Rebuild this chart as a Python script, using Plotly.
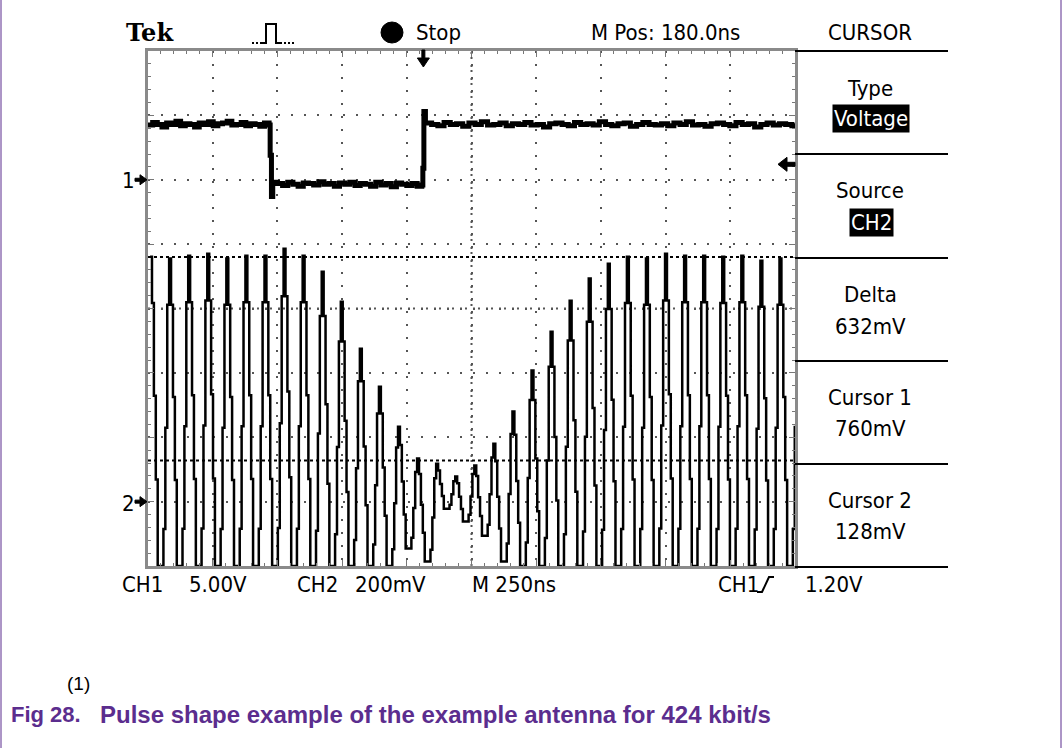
import plotly.graph_objects as go

# ---------------- data ----------------
TIME_RANGE_NS = [0, 2500]          # 10 div x 250 ns
CH1_RANGE_V = [-30, 10]            # 8 div x 5.00 V, ground marker "1"
CH2_RANGE_MV = [-200, 1400]        # 8 div x 200 mV, ground marker "2"

CH1_T_NS = [0, 18, 36, 54, 72, 90, 108, 126, 144, 162, 180, 198, 216, 234, 252, 270, 288, 306,
            324, 342, 360, 378, 396, 414, 432, 450, 468,
            472, 477, 482,
            500, 520, 540, 560, 580, 600, 620, 640, 660, 680, 700, 720, 740, 760, 780, 800,
            820, 840, 860, 880, 900, 920, 940, 960, 980, 1000, 1020, 1040, 1058,
            1062, 1066, 1072,
            1096, 1120, 1144, 1168, 1192, 1216, 1240, 1264, 1288, 1312, 1336, 1360, 1384, 1408,
            1432, 1456, 1480, 1504, 1528, 1552, 1576, 1600, 1624, 1648, 1672, 1696, 1720, 1744,
            1768, 1792, 1816, 1840, 1864, 1888, 1912, 1936, 1960, 1984, 2008, 2032, 2056, 2080,
            2104, 2128, 2152, 2176, 2200, 2224, 2248, 2272, 2296, 2320, 2344, 2368, 2392, 2416,
            2440, 2464, 2488, 2500]
CH1_V = [4.25, 4.45, 4.3, 4.1, 4.4, 4.3, 4.55, 4.2, 4.35, 4.3, 4.1, 4.4, 4.3, 4.5, 4.2, 4.35, 4.4, 4.55,
         4.25, 4.3, 4.45, 4.2, 4.35, 4.3, 4.15, 4.4, 4.25,
         1.9, -1.3, -0.2,
         -0.3, -0.45, -0.2, -0.35, -0.5, -0.25, -0.3, -0.4, -0.15, -0.35, -0.3, -0.5, -0.25, -0.35, -0.2,
         -0.45, -0.3, -0.35, -0.5, -0.2, -0.4, -0.3, -0.55, -0.25, -0.35, -0.45, -0.3, -0.5, -0.4,
         0.9, 5.3, 4.4,
         4.3, 4.2, 4.45, 4.3, 4.35, 4.15, 4.4, 4.3, 4.5, 4.25,
         4.3, 4.4, 4.2, 4.35, 4.3, 4.45, 4.25, 4.3, 4.1, 4.35,
         4.4, 4.3, 4.2, 4.45, 4.3, 4.35, 4.25, 4.5, 4.3, 4.2,
         4.35, 4.4, 4.15, 4.3, 4.45, 4.3, 4.25, 4.35, 4.2, 4.4,
         4.3, 4.5, 4.25, 4.3, 4.15, 4.35, 4.4, 4.3, 4.2, 4.45,
         4.3, 4.35, 4.1, 4.3, 4.4, 4.25, 4.35, 4.3, 4.2, 4.3]

# CH2: 13.56 MHz carrier, one peak / trough per cycle (clipped at screen bottom = -200 mV)
CARRIER_FIRST_PEAK_NS = 8
CARRIER_PERIOD_NS = 73.7
CH2_PEAKS_MV = [761, 755, 764, 770, 755, 764, 764, 786, 764, 714, 621, 475, 357, 233, 134,
                118, 78, 112, 180, 280, 407, 528, 624, 693, 739, 761, 755, 770, 764, 764,
                761, 764, 748, 755, 760]
CH2_TROUGHS_MV = [-200, -200, -200, -200, -200, -200, -200, -200, -200, -200, -200, -200, -200,
                  -146, -186, -22, -62, -106, -186, -200, -200, -200, -200, -200, -200, -200,
                  -200, -200, -200, -200, -200, -200, -200, -200]
# stepped shape of one sampled cycle (fraction between trough and peak)
CYCLE_SHAPE = [1.0, 0.85, 0.55, 0.28, 0.0, 0.0, 0.0, 0.12, 0.45, 0.85]
RISE_START = 7

CURSORS_MV = [760, 128]
TRIGGER_T_NS = 1064
TRIGGER_LEVEL_V = 1.2

PANEL_ITEMS = [("Type", "Voltage", True), ("Source", "CH2", True), ("Delta", "632mV", False),
               ("Cursor 1", "760mV", False), ("Cursor 2", "128mV", False)]
BOTTOM_LABELS = [("CH1", 120), ("5.00V", 187), ("CH2", 295), ("200mV", 353),
                 ("M 250ns", 470), ("CH1", 716), ("1.20V", 803)]
CAPTION_NUM = "Fig 28."
CAPTION = "Pulse shape example of the example antenna for 424 kbit/s"

# ---------------- layout helpers ----------------
L, T, W, H = 148, 51, 647, 515
FIG_W, FIG_H = 1063, 748
SCOPE_FONT = "DejaVu Sans Condensed, DejaVu Sans, sans-serif"
PURPLE = "#5b2d8e"


def PX(x):
    return (x - L) / W


def PY(y):
    return (T + H - y) / H


# ---------------- build CH2 trace ----------------
ch2_t, ch2_v = [], []
for k in range(len(CH2_TROUGHS_MV)):
    for j, f in enumerate(CYCLE_SHAPE):
        t = CARRIER_FIRST_PEAK_NS + (k + j / len(CYCLE_SHAPE)) * CARRIER_PERIOD_NS
        top = CH2_PEAKS_MV[k] if j < RISE_START else CH2_PEAKS_MV[k + 1]
        low = CH2_TROUGHS_MV[k]
        ch2_t.append(t)
        ch2_v.append(low + f * (top - low))

fig = go.Figure()
fig.add_trace(go.Scatter(x=CH1_T_NS, y=CH1_V, mode="lines", line=dict(color="black", width=5, shape="hv"),
                         yaxis="y", showlegend=False, hoverinfo="skip"))
fig.add_trace(go.Scatter(x=ch2_t, y=ch2_v, mode="lines", line=dict(color="black", width=2.5, shape="hv"),
                         yaxis="y2", showlegend=False, hoverinfo="skip"))

axis_common = dict(showticklabels=False, zeroline=False, showgrid=True, gridcolor="#555",
                   gridwidth=2, griddash="2px,11px", showline=True, linecolor="#8a8a8a",
                   linewidth=3, mirror="ticks", ticks="inside", ticklen=6, tickcolor="#777",
                   tickwidth=1)
fig.update_layout(
    width=FIG_W, height=FIG_H, autosize=False,
    margin=dict(l=L, r=FIG_W - L - W, t=T, b=FIG_H - T - H),
    paper_bgcolor="white", plot_bgcolor="white",
    xaxis=dict(range=TIME_RANGE_NS, dtick=250, tick0=0,
               minor=dict(dtick=50, ticks="inside", ticklen=3, tickcolor="#777", showgrid=False),
               **axis_common),
    yaxis=dict(range=CH1_RANGE_V, dtick=5, tick0=0,
               minor=dict(dtick=1, ticks="inside", ticklen=3, tickcolor="#777", showgrid=False),
               **axis_common),
    yaxis2=dict(range=CH2_RANGE_MV, overlaying="y", visible=False),
)

shapes = []
# centre cross (denser marks)
mid_t = (TIME_RANGE_NS[0] + TIME_RANGE_NS[1]) / 2
mid_v = (CH1_RANGE_V[0] + CH1_RANGE_V[1]) / 2
shapes.append(dict(type="line", xref="x", yref="paper", x0=mid_t, x1=mid_t, y0=0, y1=1,
                   line=dict(color="#555", width=2, dash="2px,3px,2px,6px"), layer="below"))
shapes.append(dict(type="line", xref="paper", yref="y", x0=0, x1=1, y0=mid_v, y1=mid_v,
                   line=dict(color="#555", width=2, dash="2px,3px,2px,6px"), layer="below"))
# cursor lines on CH2
for c in CURSORS_MV:
    shapes.append(dict(type="line", xref="paper", yref="y2", x0=0, x1=1, y0=c, y1=c,
                       line=dict(color="black", width=2, dash="3px,3px")))
# right panel separators
for yy in [51, 154, 258, 361, 464, 567]:
    shapes.append(dict(type="line", xref="paper", yref="paper", x0=PX(795), x1=PX(948),
                       y0=PY(yy), y1=PY(yy), line=dict(color="black", width=2)))
# purple page borders
for xx in [1, 1061]:
    shapes.append(dict(type="line", xref="paper", yref="paper", x0=PX(xx), x1=PX(xx),
                       y0=PY(FIG_H), y1=PY(0), line=dict(color=PURPLE, width=1)))
# trigger position arrow (top)
dt = 6 * (TIME_RANGE_NS[1] - TIME_RANGE_NS[0]) / W
shapes.append(dict(type="path", xref="x", yref="paper",
                   path=f"M {TRIGGER_T_NS - 1.5*dt/6},{PY(50)} L {TRIGGER_T_NS + 1.5*dt/6},{PY(50)} "
                        f"L {TRIGGER_T_NS + 1.5*dt/6},{PY(58)} L {TRIGGER_T_NS + dt},{PY(58)} "
                        f"L {TRIGGER_T_NS},{PY(67)} L {TRIGGER_T_NS - dt},{PY(58)} "
                        f"L {TRIGGER_T_NS - 1.5*dt/6},{PY(58)} Z",
                   fillcolor="black", line=dict(color="black", width=1)))
# trigger level arrow (right, CH1 scale)
vpp = (CH1_RANGE_V[1] - CH1_RANGE_V[0]) / H
tl = TRIGGER_LEVEL_V
shapes.append(dict(type="path", xref="paper", yref="y",
                   path=f"M {PX(778)},{tl} L {PX(787)},{tl + 7*vpp} L {PX(787)},{tl + 2*vpp} "
                        f"L {PX(795)},{tl + 2*vpp} L {PX(795)},{tl - 2*vpp} L {PX(787)},{tl - 2*vpp} "
                        f"L {PX(787)},{tl - 7*vpp} Z",
                   fillcolor="black", line=dict(color="black", width=1)))
# ground markers 1 and 2
for yref, ypos in [("y", 0), ("y2", 0)]:
    rng = CH1_RANGE_V if yref == "y" else CH2_RANGE_MV
    u = (rng[1] - rng[0]) / H
    shapes.append(dict(type="path", xref="paper", yref=yref,
                       path=f"M {PX(147)},{ypos} L {PX(140)},{ypos + 5*u} L {PX(140)},{ypos + 1.5*u} "
                            f"L {PX(135)},{ypos + 1.5*u} L {PX(135)},{ypos - 1.5*u} L {PX(140)},{ypos - 1.5*u} "
                            f"L {PX(140)},{ypos - 5*u} Z",
                       fillcolor="black", line=dict(color="black", width=1)))
# Stop dot
shapes.append(dict(type="circle", xref="paper", yref="paper", x0=PX(381), x1=PX(403),
                   y0=PY(43), y1=PY(22), fillcolor="black", line=dict(color="black", width=1)))
# acquisition pulse icon
shapes.append(dict(type="path", xref="paper", yref="paper",
                   path=f"M {PX(262)},{PY(43)} L {PX(266)},{PY(43)} L {PX(266)},{PY(24)} "
                        f"L {PX(276)},{PY(24)} L {PX(276)},{PY(43)} L {PX(280)},{PY(43)}",
                   line=dict(color="black", width=2)))
for a, b in [(252, 262), (280, 296)]:
    shapes.append(dict(type="line", xref="paper", yref="paper", x0=PX(a), x1=PX(b),
                       y0=PY(43), y1=PY(43), line=dict(color="black", width=2, dash="2px,2px")))
# rising-edge symbol in bottom line
shapes.append(dict(type="path", xref="paper", yref="paper",
                   path=f"M {PX(757)},{PY(592)} L {PX(762)},{PY(592)} L {PX(769)},{PY(577)} L {PX(774)},{PY(577)}",
                   line=dict(color="black", width=2)))
fig.update_layout(shapes=shapes)

annotations = []


def add_text(text, x, y, size=22, xanchor="center", family=SCOPE_FONT, color="black", **kw):
    annotations.append(dict(text=text, x=PX(x), y=PY(y), xref="paper", yref="paper",
                            xanchor=xanchor, yanchor="middle", showarrow=False,
                            font=dict(family=family, size=size, color=color), **kw))


add_text("<b>Tek</b>", 150, 33, size=24, family="DejaVu Serif, Liberation Serif, serif")
add_text("Stop", 438, 32)
add_text("M Pos: 180.0ns", 665, 32)
add_text("CURSOR", 870, 32)

panel_y = [(88, 119), (190, 222), (294, 326), (397, 428), (500, 531)]
for (title, value, inverse), (y1, y2) in zip(PANEL_ITEMS, panel_y):
    add_text(title, 870, y1)
    if inverse:
        add_text(value, 871, y2, color="white", bgcolor="black", borderpad=1)
    else:
        add_text(value, 870, y2)

for txt, x in BOTTOM_LABELS:
    add_text(txt, x, 584, xanchor="left")

add_text("1", 128, 180)
add_text("2", 128, 503)

add_text("(1)", 65, 683, size=19, xanchor="left", family="Liberation Sans, Arial, sans-serif")
add_text(f"<b>{CAPTION_NUM}</b>", 9, 714, size=22, xanchor="left",
         family="Liberation Sans, Arial, sans-serif", color=PURPLE)
add_text(f"<b>{CAPTION}</b>", 98, 714, size=24, xanchor="left",
         family="Liberation Sans, Arial, sans-serif", color=PURPLE)

fig.update_layout(annotations=annotations)
fig.write_html("out.html", config={"displayModeBar": False},
               post_script="document.body.style.margin='0';")
